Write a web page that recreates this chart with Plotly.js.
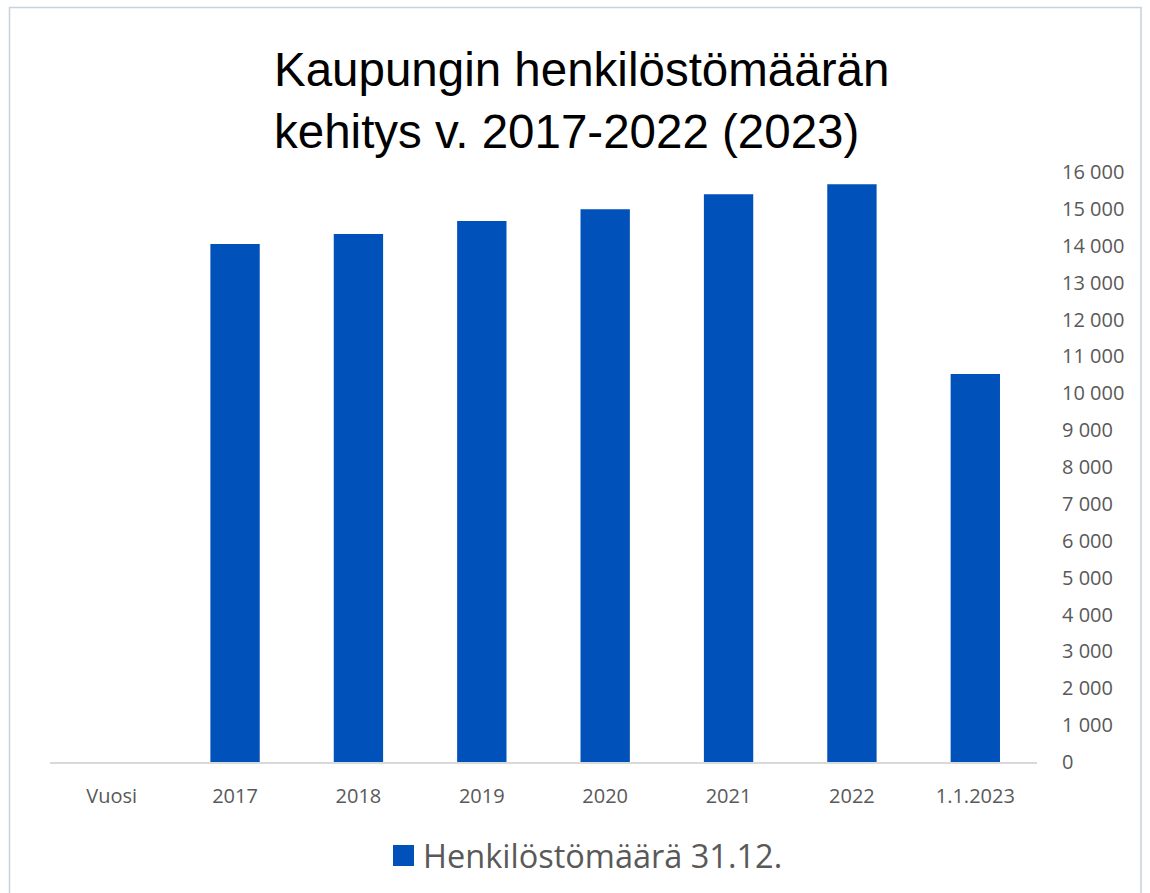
<!DOCTYPE html>
<html>
<head>
<meta charset="utf-8">
<script src="https://cdn.plot.ly/plotly-3.0.1.min.js"></script>
<style>
html,body{margin:0;padding:0;background:#fff;}
#chart{width:1150px;height:893px;}
</style>
</head>
<body>
<div id="chart"></div>
<script>
const categories = ["Vuosi", "2017", "2018", "2019", "2020", "2021", "2022", "1.1.2023"];
const staffCount = [null, 14050, 14320, 14670, 14990, 15400, 15670, 10520];
const seriesName = "Henkilöstömäärä 31.12.";
const titleText = "Kaupungin henkilöstömäärän<br>kehitys v. 2017-2022 (2023)";
const yTicks = [0,1000,2000,3000,4000,5000,6000,7000,8000,9000,10000,11000,12000,13000,14000,15000,16000];

const barColor = "#0051BA";
const L = 50, R = 113, T = 172, B = 131;
const pw = 1150 - L - R, ph = 893 - T - B;
const px = v => (v - L) / pw;
const py = v => (893 - B - v) / ph;

const trace = {
  type: "bar",
  x: categories,
  y: staffCount,
  name: seriesName,
  marker: {color: barColor},
  showlegend: true,
  hoverinfo: "x+y"
};

const layout = {
  width: 1150, height: 893,
  margin: {l: L, r: R, t: T, b: B, pad: 0},
  paper_bgcolor: "#ffffff",
  plot_bgcolor: "#ffffff",
  separators: ", ",
  bargap: 0.6,
  title: {
    text: titleText,
    font: {family: "Liberation Sans, Arial, sans-serif", size: 47.5, color: "#000000"},
    x: 274/1150, xanchor: "left", xref: "container",
    y: 1 - 86/893, yanchor: "top", yref: "container"
  },
  font: {family: "Open Sans, sans-serif", color: "#595959"},
  xaxis: {
    type: "category",
    showgrid: false,
    showline: true,
    linecolor: "#D9D9D9",
    linewidth: 1.5,
    ticks: "",
    tickfont: {family: "Open Sans, sans-serif", size: 20, color: "#595959"},
    ticklabelstandoff: 15,
    fixedrange: true
  },
  yaxis: {
    side: "right",
    range: [0, 16000],
    tickvals: yTicks,
    tickformat: ",d",
    showgrid: false,
    zeroline: false,
    showline: false,
    ticks: "",
    tickfont: {family: "Open Sans, sans-serif", size: 20, color: "#595959"},
    ticklabelstandoff: 24,
    fixedrange: true
  },
  legend: {
    orientation: "h",
    x: 383/1150, xref: "container", xanchor: "left",
    y: 1 - 856/893, yref: "container", yanchor: "middle",
    font: {family: "Open Sans, sans-serif", size: 32.5, color: "#595959"},
    bgcolor: "rgba(0,0,0,0)"
  },
  shapes: [{
    type: "rect", xref: "paper", yref: "paper", layer: "below",
    x0: px(9.5), x1: px(1141), y0: py(905), y1: py(7.5),
    line: {color: "#C8D2DC", width: 1.5},
    fillcolor: "rgba(0,0,0,0)"
  }, {
    type: "rect", xref: "paper", yref: "paper", layer: "above",
    x0: px(393), x1: px(414), y0: py(866), y1: py(845),
    line: {width: 0},
    fillcolor: barColor
  }]
};

Plotly.newPlot("chart", [trace], layout, {displayModeBar: false, staticPlot: true}).then(function(gd){
  gd.querySelectorAll(".legend .legendpoints").forEach(function(g){
    g.style.opacity = 0;
  });
});
</script>
</body>
</html>
